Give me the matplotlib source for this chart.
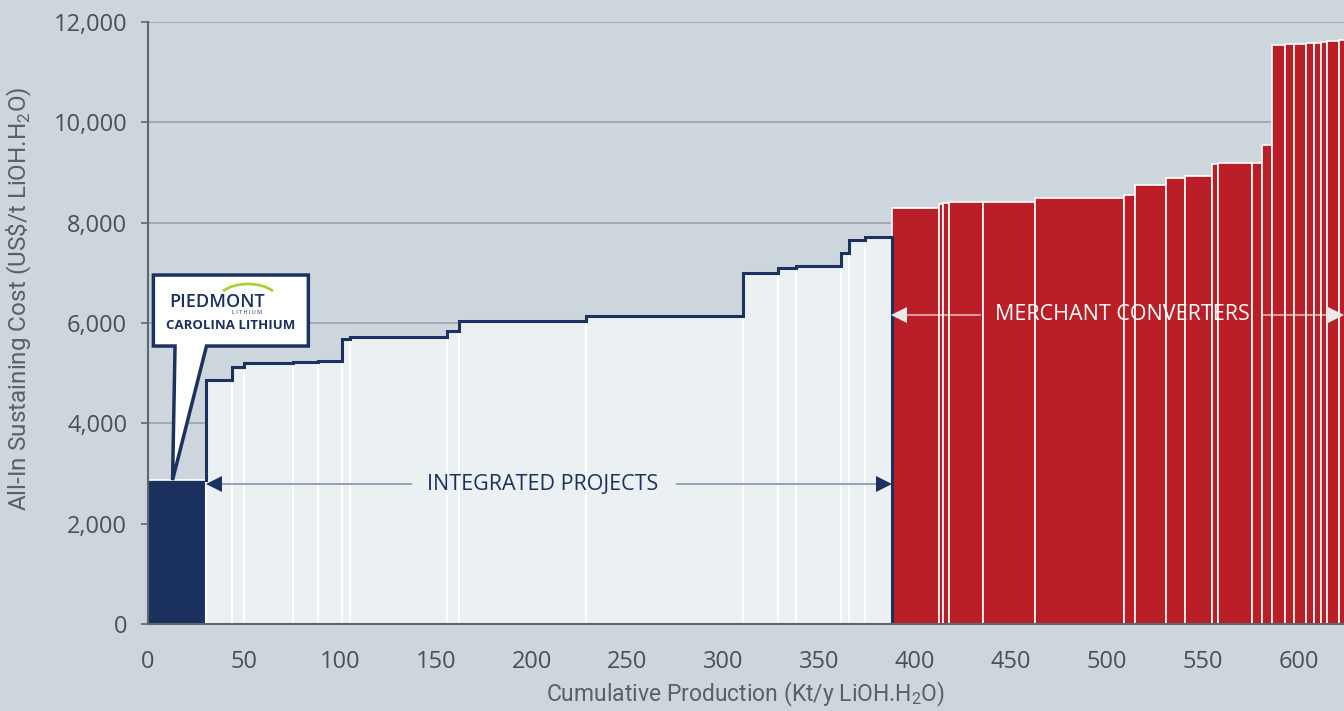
import numpy as np
import matplotlib
matplotlib.use('Agg')
import matplotlib.pyplot as plt
from matplotlib.patches import Polygon, Arc
from matplotlib.ticker import FuncFormatter

# Piedmont (Carolina Lithium)
piedmont_capacity = 30.5
piedmont_cost = 2870

# integrated projects: capacity (kt/y) and AISC (US$/t)
integrated_capacity = [13.1, 6.6, 25.2, 13.4, 12.5, 4.0, 50.4, 6.4, 66.3, 82.0,
                       18.2, 9.1, 23.6, 4.2, 8.3, 13.9]
integrated_cost = [4860, 5120, 5210, 5220, 5245, 5680, 5730, 5850, 6030, 6130,
                   6990, 7090, 7140, 7390, 7650, 7710]

# merchant converters
merchant_capacity = [24.9, 2.1, 2.9, 17.9, 27.1, 46.1, 6.1, 15.8, 10.1, 13.9, 3.1,
                     18.1, 4.9, 5.2, 6.7, 5.1, 6.1, 4.0, 3.8, 3.1, 6.2, 4.5]
merchant_cost = [8300, 8370, 8390, 8405, 8410, 8485, 8550, 8755, 8900, 8935, 9170,
                 9185, 9190, 9540, 11545, 11565, 11570, 11590, 11590, 11600, 11615, 11640]

yticks = [0, 2000, 4000, 6000, 8000, 10000, 12000]
xticks = [0, 50, 100, 150, 200, 250, 300, 350, 400, 450, 500, 550, 600]

BG = '#CDD5DD'
GRID = '#A2A9B1'
NAVY = '#1B3160'
LIGHT = '#EBF0F3'
RED = '#BA1F27'
AXIS = '#60666D'
TXT = '#4B5057'

plt.rcParams['font.family'] = ['Open Sans', 'DejaVu Sans']

fig = plt.figure(figsize=(13.44, 7.11), dpi=100)
fig.patch.set_facecolor(BG)
ax = fig.add_axes([148 / 1344, 87 / 711, 1196 / 1344, 602 / 711])
ax.set_facecolor(BG)

# bars
ax.bar(0, piedmont_cost, width=piedmont_capacity, align='edge', color=NAVY,
       edgecolor='white', linewidth=1.2, zorder=2)

int_edges = piedmont_capacity + np.concatenate([[0], np.cumsum(integrated_capacity)])
ax.bar(int_edges[:-1], integrated_cost, width=integrated_capacity, align='edge',
       color=LIGHT, edgecolor='white', linewidth=1.5, zorder=2)

# navy outline over the integrated projects
step_x = np.repeat(int_edges, 2)
step_y = np.concatenate([[piedmont_cost], np.repeat(integrated_cost, 2), [0]])
ax.plot(step_x, step_y, color=NAVY, lw=2.2, zorder=3, solid_joinstyle='miter')

m_edges = int_edges[-1] + np.concatenate([[0], np.cumsum(merchant_capacity)])
ax.bar(m_edges[:-1], merchant_cost, width=merchant_capacity, align='edge',
       color=RED, edgecolor='white', linewidth=1.2, zorder=2)

# axes styling
ax.set_xlim(0, 623.6)
ax.set_ylim(0, 12000)
ax.set_yticks(yticks)
ax.set_xticks(xticks)
ax.yaxis.set_major_formatter(FuncFormatter(lambda v, p: f'{v:,.0f}'))
ax.yaxis.grid(True, color=GRID, lw=1.4)
ax.set_axisbelow(True)
for s in ['top', 'right']:
    ax.spines[s].set_visible(False)
for s in ['left', 'bottom']:
    ax.spines[s].set_color(AXIS)
    ax.spines[s].set_linewidth(1.5)
    ax.spines[s].set_zorder(4)
ax.tick_params(axis='y', length=5, width=1.2, color=AXIS, pad=10, labelsize=17, labelcolor=TXT)
ax.tick_params(axis='x', length=0, pad=19, labelsize=17, labelcolor=TXT)

ax.set_xlabel(r'Cumulative Production (Kt/y LiOH.H$_\mathregular{2}$O)', fontsize=16.5,
              color='#5A6068', family='Roboto', labelpad=4)
ax.set_ylabel(r'All-In Sustaining Cost (US\$/t LiOH.H$_\mathregular{2}$O)', fontsize=17.5,
              color='#5A6068', family='Roboto')
ax.yaxis.set_label_coords(-0.095, 0.54)

# integrated projects arrow
px = 623.6 / 1196  # data units per pixel in x
y_int = 2790
ax.plot([int_edges[0] + 6, 137], [y_int, y_int], color='#8E9BB0', lw=1.3, zorder=3)
ax.plot([276, int_edges[-1] - 6], [y_int, y_int], color='#8E9BB0', lw=1.3, zorder=3)
ax.plot(int_edges[0] + 8 * px, y_int, marker='<', color=NAVY, ms=12, mew=0, zorder=4)
ax.plot(int_edges[-1] - 8 * px, y_int, marker='>', color=NAVY, ms=12, mew=0, zorder=4)
ax.text(206, y_int, 'INTEGRATED PROJECTS', color=NAVY, fontsize=15.5,
        ha='center', va='center', zorder=4)

# merchant converters arrow
y_m = 6160
ax.plot([m_edges[0] + 6, 434], [y_m, y_m], color='white', alpha=0.6, lw=1.3, zorder=3)
ax.plot([581, 619], [y_m, y_m], color='white', alpha=0.6, lw=1.3, zorder=3)
ax.plot(m_edges[0] + 7 * px, y_m, marker='<', color='#E8EAEC', ms=11, mew=0, zorder=4)
ax.plot(623.6 - 8 * px, y_m, marker='>', color='#E8EAEC', ms=11, mew=0, zorder=4)
ax.text(508, y_m, 'MERCHANT CONVERTERS', color='white', fontsize=15.5,
        ha='center', va='center', zorder=4)

# callout box for Piedmont
bx0, bx1, by0, by1 = 2.8, 83.6, 5541, 6956
callout = Polygon([(bx0, by1), (bx1, by1), (bx1, by0), (piedmont_capacity, by0),
                   (piedmont_capacity * 0.42, piedmont_cost), (14.1, by0), (bx0, by0)],
                  closed=True, facecolor='white', edgecolor=NAVY, lw=2.5,
                  joinstyle='miter', zorder=5, clip_on=False)
ax.add_patch(callout)
fig.text(217 / 1344, 1 - 302 / 711, 'PIEDMONT', color=NAVY, fontsize=13,
         ha='center', va='center', fontweight='semibold')
fig.text(247 / 1344, 1 - 313 / 711, 'L I T H I U M', color=NAVY, fontsize=4,
         ha='center', va='center')
fig.text(231 / 1344, 1 - 325 / 711, 'CAROLINA LITHIUM', color=NAVY, fontsize=9.5,
         ha='center', va='center', fontweight='bold')
fig.add_artist(Arc((248 / 1344, 1 - 300 / 711), 60 / 1344, 32 / 711, theta1=34, theta2=146,
                   color='#A9CF3A', lw=2, transform=fig.transFigure))

fig.savefig('out.png', dpi=100, facecolor=BG)
